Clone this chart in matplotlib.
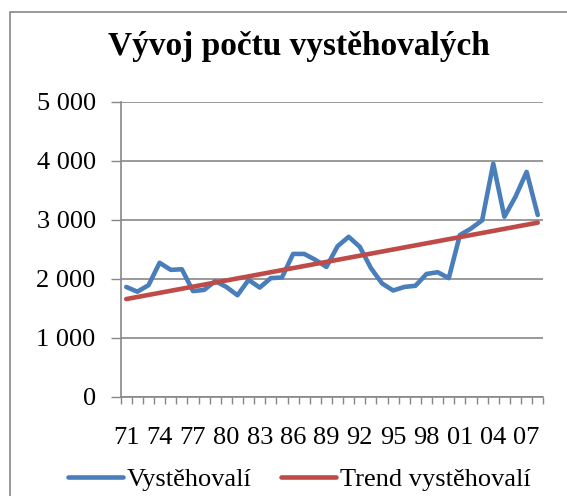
import numpy as np
import matplotlib
matplotlib.use('Agg')
from matplotlib import pyplot as plt
from matplotlib.patches import Rectangle

plt.rcParams['font.family'] = ['Liberation Serif', 'DejaVu Serif']

years = list(range(1971, 2009))
year_labels = ['71', '74', '77', '80', '83', '86', '89', '92', '95', '98', '01', '04', '07']

vystehovali = [1860, 1780, 1890, 2270, 2150, 2160, 1790, 1810, 1960, 1860,
               1720, 1980, 1850, 2010, 2020, 2420, 2420, 2320, 2200, 2550,
               2710, 2540, 2180, 1920, 1800, 1860, 1880, 2080, 2110, 2010,
               2740, 2850, 2990, 3950, 3050, 3390, 3810, 3080]

trend = [1655, 1690, 1725, 1760, 1795, 1830, 1865, 1900, 1935, 1970,
         2005, 2040, 2075, 2110, 2145, 2180, 2215, 2250, 2285, 2320,
         2355, 2390, 2425, 2460, 2495, 2530, 2565, 2600, 2635, 2670,
         2705, 2740, 2775, 2810, 2845, 2880, 2915, 2950]

y_ticks = [0, 1000, 2000, 3000, 4000, 5000]
y_labels = ['0', '1 000', '2 000', '3 000', '4 000', '5 000']

W, H = 567, 496
fig = plt.figure(figsize=(W / 100, H / 100), dpi=100)

# plot area in pixels: left 120.7, right 543.3, top 101.7, bottom 396.7
ax = fig.add_axes([120.7 / W, 1 - 396.7 / H, (543.3 - 120.7) / W, (396.7 - 101.7) / H])

grey = '#878787'
x = np.arange(len(years))
ax.plot(x, vystehovali, color='#4A7EBB', lw=3.3, solid_capstyle='round',
        solid_joinstyle='round', label='Vystěhovalí', zorder=3)
ax.plot(x, trend, color='#BE4B48', lw=3.3, solid_capstyle='round',
        label='Trend vystěhovalí', zorder=3)

ax.set_xlim(-0.5, len(years) - 0.5)
ax.set_ylim(0, 5000)

ax.set_yticks(y_ticks)
ax.set_yticklabels(y_labels)
ax.yaxis.grid(True, color=grey, lw=1.2)
ax.set_axisbelow(True)

ax.set_xticks(x[::3])
ax.set_xticklabels(year_labels)
ax.set_xticks(np.arange(-0.5, len(years)), minor=True)
ax.tick_params(axis='x', which='major', length=0, pad=22, labelsize=19)
ax.tick_params(axis='x', which='minor', length=5, width=1, color=grey, direction='out')
ax.tick_params(axis='y', length=7, width=1, color=grey, pad=11, labelsize=19)

for s in ['top', 'right']:
    ax.spines[s].set_visible(False)
for s in ['left', 'bottom']:
    ax.spines[s].set_color(grey)
    ax.spines[s].set_linewidth(1.2)

fig.text(299 / W, 1 - 47 / H, 'Vývoj počtu vystěhovalých', ha='center', va='center',
         fontsize=24, fontweight='bold')

fig.legend(loc='center', bbox_to_anchor=(299.5 / W, 1 - 479 / H), ncol=2, frameon=False,
           fontsize=19, handlelength=2.08, handletextpad=0.15, columnspacing=1.1,
           borderaxespad=0, borderpad=0)

fig.patches.append(Rectangle((10 / W, -0.1), 1.2, 1 - 12 / H + 0.1, transform=fig.transFigure,
                             fill=False, edgecolor=grey, lw=1.2))

fig.savefig('out.png', dpi=100)
